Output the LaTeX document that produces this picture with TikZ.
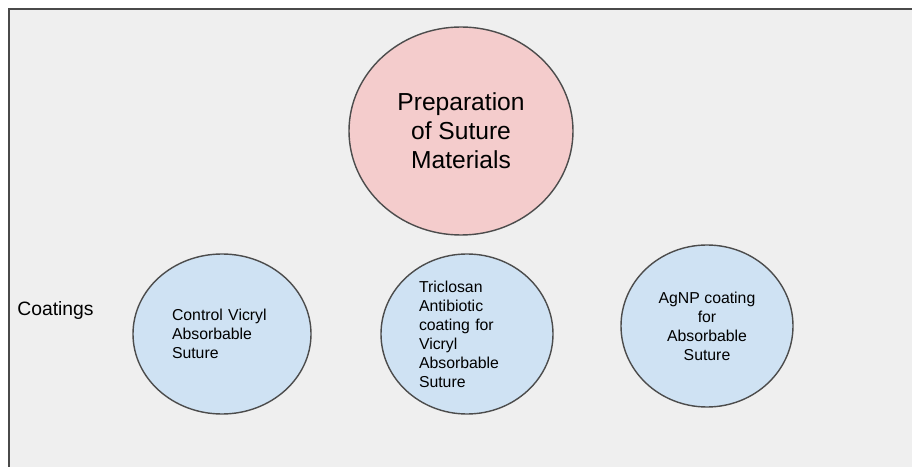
\documentclass[tikz,border=0pt]{standalone}
\usepackage{fontspec}
\setmainfont{Liberation Sans}
\usetikzlibrary{shapes.geometric}
\definecolor{pagebg}{HTML}{EFEFEF}
\definecolor{framegray}{HTML}{4A4A4A}
\definecolor{prepred}{HTML}{F4CCCC}
\definecolor{coatblue}{HTML}{CFE2F3}
\begin{document}
\begin{tikzpicture}[
    bubble/.style={ellipse, draw=black!70, line width=0.8pt, inner sep=0pt},
    prepbubble/.style={bubble, fill=prepred, minimum width=4.48cm, minimum height=4.16cm,
      align=center, font=\fontsize{14}{16.5}\selectfont},
    coatbubble/.style={bubble, fill=coatblue, minimum height=3.2cm,
      font=\fontsize{9}{10.8}\selectfont}]
    \useasboundingbox (0,0) rectangle (18.24,9.32);
    \clip (0,0) rectangle (18.24,9.32);
    % canvas
    \fill[pagebg] (0.18,-1) rectangle (19,9.14);
    \draw[framegray, line width=1.1pt] (0.18,-1) -- (0.18,9.14) -- (19,9.14);
    % top circle
    \node[prepbubble] (prep) at (9.22,6.70) {Preparation\\of Suture\\Materials};
    % coatings row
    \node[anchor=west, inner sep=0pt, font=\fontsize{11}{13}\selectfont] (coatings) at (0.34,3.10) {Coatings};
    \node[coatbubble, minimum width=3.56cm, text width=2.0cm, align=left] (control) at (4.44,2.64)
      {Control Vicryl\\Absorbable\\Suture};
    \node[coatbubble, minimum width=3.44cm, text width=1.92cm, align=left] (triclosan) at (9.34,2.64)
      {Triclosan\\Antibiotic\\coating for\\Vicryl\\Absorbable\\Suture};
    \node[coatbubble, minimum width=3.44cm, minimum height=3.24cm, align=center] (agnp) at (14.14,2.80)
      {AgNP coating\\for\\Absorbable\\Suture};
  \end{tikzpicture}
\end{document}
